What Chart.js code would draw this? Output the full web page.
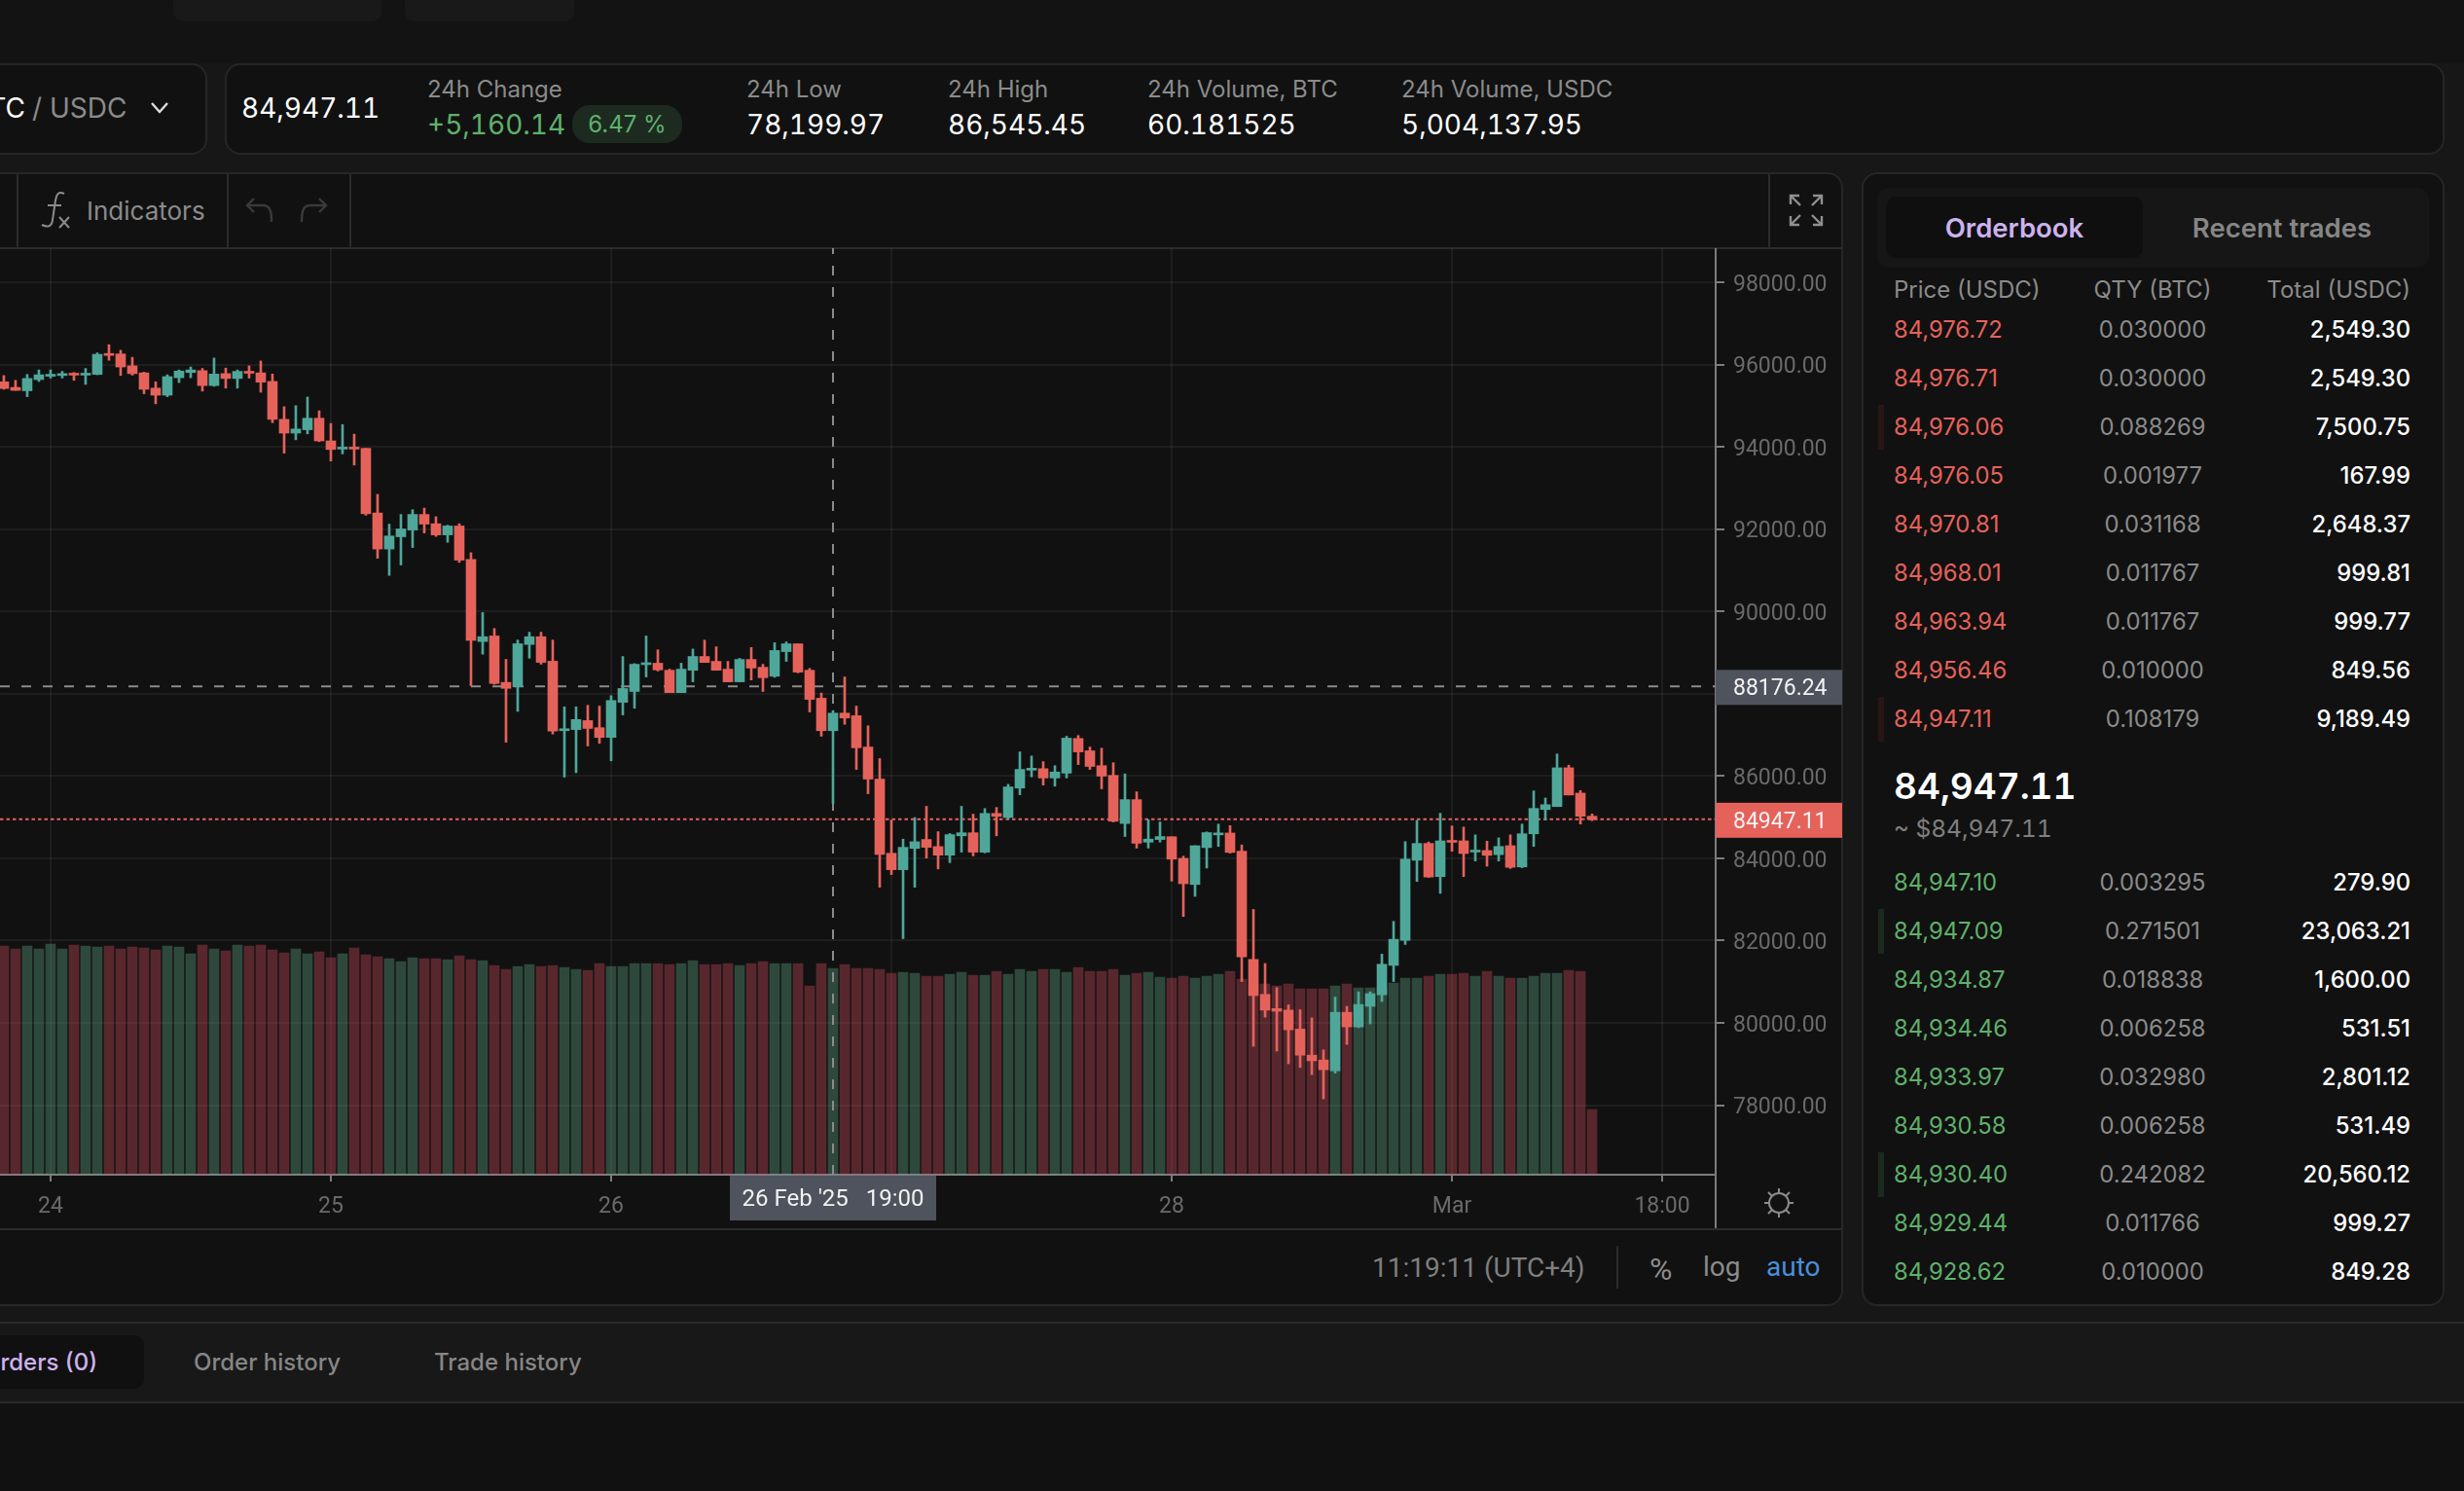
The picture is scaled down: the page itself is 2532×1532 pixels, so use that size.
<!DOCTYPE html>
<html>
<head>
<meta charset="utf-8">
<title>BTC / USDC</title>
<script src="https://cdn.jsdelivr.net/npm/chart.js@4"></script>
<style>
  html, body { margin: 0; padding: 0; background: #171717; overflow: hidden; }
  body { width: 2532px; height: 1532px; position: relative; font-family: Inter, "Noto Sans", sans-serif; color: #fff; }
  .abs { position: absolute; white-space: nowrap; line-height: 1; }
  .box { position: absolute; box-sizing: border-box; background: #111; border: 2px solid #262626; }
  .line { position: absolute; background: #2b2b2b; }
  .label { color: #8b8b8b; font-size: 24px; }
  .value { color: #fff; font-size: 28px; font-variant-numeric: tabular-nums; }
  .row { font-size: 23.8px; }
  #chart { position: absolute; left: 0; top: 255px; }
</style>
</head>
<body>
<div class="abs" style="left:0;top:0;width:2532px;height:65px;background:#131313"></div>
<div class="abs" style="left:178px;top:-10px;width:214px;height:32px;background:#191919;border-radius:10px"></div>
<div class="abs" style="left:416px;top:-10px;width:174px;height:32px;background:#191919;border-radius:10px"></div>

<div class="box" style="left:-20px;top:65px;width:233px;height:94px;border-radius:16px"></div>
<div class="abs" style="right:2506px;top:97px;font-size:28px">BTC</div>
<div class="abs" style="left:33px;top:97px;font-size:28px;color:#8b8b8b">/ USDC</div>
<svg class="abs" style="left:154px;top:104px" width="20" height="14"><path d="M2 2 L10 11 L18 2" fill="none" stroke="#ddd" stroke-width="2.4"/></svg>

<div class="box" style="left:231px;top:65px;width:2281px;height:94px;border-radius:16px"></div>
<div class="abs value" style="left:248px;top:97px">84,947.11</div>
<div class="abs label" style="left:439px;top:80px">24h Change</div>
<div class="abs value" style="left:439px;top:114px;color:#5fb06b">+5,160.14</div>
<div class="abs" style="left:588px;top:108px;width:113px;height:39px;border-radius:18px;background:#1c2a20"></div>
<div class="abs" style="left:588px;width:113px;text-align:center;top:116px;font-size:24px;color:#5fb06b">6.47 %</div>
<div class="abs label" style="left:767px;top:80px">24h Low</div>
<div class="abs value" style="left:767px;top:114px">78,199.97</div>
<div class="abs label" style="left:974px;top:80px">24h High</div>
<div class="abs value" style="left:974px;top:114px">86,545.45</div>
<div class="abs label" style="left:1179px;top:80px">24h Volume, BTC</div>
<div class="abs value" style="left:1179px;top:114px">60.181525</div>
<div class="abs label" style="left:1440px;top:80px">24h Volume, USDC</div>
<div class="abs value" style="left:1440px;top:114px">5,004,137.95</div>

<div class="box" style="left:-20px;top:177px;width:1914px;height:1165px;border-radius:16px"></div>
<div class="line" style="left:0;top:254px;width:1893px;height:2px"></div>
<div class="line" style="left:17px;top:179px;width:2px;height:75px"></div>
<div class="line" style="left:233px;top:179px;width:2px;height:75px"></div>
<div class="line" style="left:359px;top:179px;width:2px;height:75px"></div>
<div class="line" style="left:1817px;top:179px;width:2px;height:75px"></div>
<svg class="abs" style="left:40px;top:196px" width="34" height="40" fill="none" stroke="#8b8b8b" stroke-width="2">
  <path d="M26 3 C20 0 18 4 17 10 L14 30 C13 37 9 38 3 35"/><path d="M9 15 L23 15"/><path d="M21 27 L31 38 M31 27 L21 38"/>
</svg>
<div class="abs" style="left:89px;top:204px;font-size:26px;color:#8b8b8b">Indicators</div>
<svg class="abs" style="left:252px;top:202px" width="85" height="28" fill="none" stroke="#3a3a3a" stroke-width="2.4">
  <path d="M9 2 L2 9 L9 16 M2 9 L18 9 C25 9 27 14 27 26"/><path d="M76 2 L83 9 L76 16 M83 9 L67 9 C60 9 58 14 58 26"/>
</svg>
<svg class="abs" style="left:1838px;top:199px" width="36" height="34" fill="none" stroke="#8f8f8f" stroke-width="2.4">
  <path d="M2 11 L2 2 L11 2 M2 2 L12 12"/><path d="M25 2 L34 2 L34 11 M34 2 L24 12"/><path d="M2 23 L2 32 L11 32 M2 32 L12 22"/><path d="M25 32 L34 32 L34 23 M34 32 L24 22"/>
</svg>

<canvas id="chart" width="1893" height="1007"></canvas>

<div class="line" style="left:0;top:1262px;width:1893px;height:2px"></div>
<div class="line" style="left:1762px;top:1207px;width:2px;height:55px;background:#7c7c80"></div>
<svg class="abs" style="left:1812px;top:1220px" width="32" height="32" fill="none" stroke="#8b8b8b" stroke-width="2">
  <circle cx="16" cy="16" r="10"/><path d="M16 1 V6 M16 26 V31 M1 16 H6 M26 16 H31 M5 5 L9 9 M23 23 L27 27 M27 5 L23 9 M9 23 L5 27"/>
</svg>
<div class="abs" style="left:1410px;top:1289px;font-size:28px;color:#7f7f7f;font-family:Roboto">11:19:11 (UTC+4)</div>
<div class="line" style="left:1661px;top:1280px;width:2px;height:44px"></div>
<div class="abs" style="left:1695px;top:1288px;font-size:32px;color:#8b8b8b;font-family:Roboto">%</div>
<div class="abs" style="left:1750px;top:1288px;font-size:28px;color:#8b8b8b;font-family:Roboto">log</div>
<div class="abs" style="left:1815px;top:1288px;font-size:28px;color:#4a8fdc;font-family:Roboto">auto</div>

<div class="box" style="left:1913px;top:177px;width:599px;height:1165px;border-radius:16px"></div>
<div class="abs" style="left:1929px;top:193px;width:567px;height:82px;border-radius:12px;background:#161616"></div>
<div class="abs" style="left:1938px;top:202px;width:264px;height:63px;border-radius:10px;background:#0f0f0f"></div>
<div class="abs" style="left:1938px;width:264px;text-align:center;top:221px;font-size:27.5px;font-weight:600;color:#cdb2ee">Orderbook</div>
<div class="abs" style="left:2212px;width:266px;text-align:center;top:221px;font-size:27.5px;font-weight:600;color:#868686">Recent trades</div>
<div class="abs label" style="left:1946px;top:286px">Price (USDC)</div>
<div class="abs label" style="left:2112px;width:200px;text-align:center;top:286px">QTY (BTC)</div>
<div class="abs label" style="right:55px;top:286px">Total (USDC)</div>
<div id="rows"></div>
<div class="abs" style="left:1946px;top:789px;font-size:37px;font-weight:600;font-variant-numeric:tabular-nums">84,947.11</div>
<div class="abs" style="left:1946px;top:839px;font-size:24.5px;color:#7f7f7f;font-variant-numeric:tabular-nums">~ $84,947.11</div>

<div class="line" style="left:0;top:1358px;width:2532px;height:2px"></div>
<div class="abs" style="left:0;top:1360px;width:2532px;height:172px;background:#111"></div>
<div class="abs" style="left:0;top:1360px;width:2532px;height:80px;background:#181818"></div>
<div class="line" style="left:0;top:1440px;width:2532px;height:2px"></div>
<div class="abs" style="left:-20px;top:1372px;width:168px;height:55px;border-radius:10px;background:#101010"></div>
<div class="abs" style="right:2432px;top:1388px;font-size:24px;font-weight:500;color:#cdb2ee">Open orders (0)</div>
<div class="abs" style="left:199px;top:1388px;font-size:24px;font-weight:500;color:#868686">Order history</div>
<div class="abs" style="left:446px;top:1388px;font-size:24px;font-weight:500;color:#868686">Trade history</div>

<script>
// hours counted from 24 Feb 00:00, one candle per hour
const hours = [
  -4, -3, -2, -1,
  0, 1, 2, 3, 4, 5, 6, 7, 8, 9, 10, 11, 12, 13, 14, 15, 16, 17, 18, 19, 20, 21, 22, 23,
  24, 25, 26, 27, 28, 29, 30, 31, 32, 33, 34, 35, 36, 37, 38, 39, 40, 41, 42, 43, 44, 45, 46, 47,
  48, 49, 50, 51, 52, 53, 54, 55, 56, 57, 58, 59, 60, 61, 62, 63, 64, 65, 66, 67, 68, 69, 70, 71,
  72, 73, 74, 75, 76, 77, 78, 79, 80, 81, 82, 83, 84, 85, 86, 87, 88, 89, 90, 91, 92, 93, 94, 95,
  96, 97, 98, 99, 100, 101, 102, 103, 104, 105, 106, 107, 108, 109, 110, 111, 112, 113, 114, 115, 116, 117, 118, 119,
  120, 121, 122, 123, 124, 125, 126, 127, 128, 129, 130, 131, 132,
];
const opens = [
  95580, 95444, 95363, 95634,
  95715, 95733, 95788, 95742, 95760, 96266, 96257, 95968, 95797, 95426, 95255, 95679, 95806, 95851, 95489, 95779, 95661, 95824, 95797, 95589, 94668, 94334, 94415, 94695,
  94144, 93945, 93982, 93963, 92392, 91516, 91814, 91977, 92356, 92130, 91859, 92076, 91263, 89268, 89403, 88275, 88166, 89196, 89385, 88789, 87101, 87128, 87346, 87174,
  86938, 87790, 88053, 88705, 88741, 88569, 88025, 88569, 88904, 88786, 88596, 88288, 88832, 88642, 88424, 89022, 89212, 88569, 87890, 87101, 87527, 87464, 86703, 85924,
  84121, 83722, 84238, 84456, 84284, 84075, 84546, 84619, 84148, 85090, 84990, 85706, 86141, 86177, 85951, 86068, 86911, 86612, 86250, 86014, 84845, 85425, 84392, 84456,
  84523, 83997, 83363, 84260, 84568, 84614, 84170, 81542, 80691, 80346, 80310, 79848, 79214, 79096, 78833, 80256, 79902, 80401, 80681, 81397, 82004, 83952, 84360, 83554,
  84414, 84423, 84151, 84188, 84088, 84305, 83789, 84595, 85184, 85257, 86199, 85583, 85021,
];
const highs = [
  95733, 95616, 95760, 95869,
  95869, 95833, 95806, 95905, 96284, 96483, 96347, 96176, 95815, 95580, 95751, 95869, 95941, 95905, 96158, 95914, 95869, 95968, 96086, 95769, 94975, 95002, 95210, 94875,
  94568, 94541, 94307, 93963, 92844, 92121, 92356, 92473, 92510, 92302, 92094, 92130, 91426, 89972, 89584, 88834, 89304, 89494, 89494, 89304, 87679, 87679, 87717, 87699,
  87953, 88904, 88732, 89403, 89067, 88596, 88741, 89085, 89303, 89140, 88786, 88859, 89122, 88714, 89239, 89258, 89212, 88614, 88016, 87590, 88406, 87699, 87219, 86422,
  84927, 84465, 84990, 85262, 84646, 84601, 85262, 85072, 85208, 85235, 85797, 86585, 86485, 86349, 86250, 86965, 86984, 86703, 86675, 86322, 86050, 85615, 84936, 84882,
  84523, 84052, 84305, 84641, 84831, 84795, 84324, 82756, 81442, 80854, 80437, 80319, 80120, 79341, 80627, 80401, 80754, 80754, 81669, 82466, 84405, 84922, 84396, 85094,
  84786, 84758, 84568, 84414, 84496, 84568, 84831, 85637, 85465, 86534, 86262, 85646, 85076,
];
const lows = [
  95399, 95372, 95219, 95589,
  95670, 95670, 95616, 95517, 95751, 96104, 95733, 95742, 95291, 95047, 95219, 95562, 95679, 95354, 95471, 95426, 95426, 95670, 95327, 94587, 93846, 94171, 94316, 94126,
  93656, 93828, 93557, 92338, 91291, 90875, 91128, 91552, 91905, 91823, 91679, 91191, 88193, 88961, 88229, 86821, 87570, 88862, 88717, 87019, 85972, 86080, 86730, 86793,
  86367, 87482, 87645, 88406, 88551, 88025, 88025, 88288, 88759, 88569, 88288, 88288, 88333, 88053, 88397, 88786, 88506, 87554, 86965, 85335, 87255, 86159, 85570, 83296,
  83604, 82046, 83296, 84003, 83740, 83894, 84148, 84057, 84130, 84546, 84954, 85543, 85978, 85779, 85751, 85951, 86277, 86159, 85688, 84882, 84528, 84247, 84247, 84392,
  83445, 82584, 83073, 83762, 84287, 84124, 81003, 79431, 80138, 79314, 79005, 78915, 78743, 78154, 78779, 79477, 79884, 79975, 80518, 81003, 81905, 83436, 83535, 83146,
  84170, 83554, 83934, 83807, 83934, 83753, 83771, 84287, 84931, 85257, 85538, 84831, 84913,
];
const closes = [
  95417, 95372, 95661, 95751,
  95760, 95769, 95742, 95788, 96248, 96221, 95941, 95779, 95399, 95255, 95706, 95842, 95869, 95489, 95769, 95661, 95833, 95788, 95571, 94668, 94334, 94433, 94695, 94144,
  93936, 93982, 93945, 92374, 91516, 91832, 92004, 92356, 92121, 91859, 92076, 91245, 89295, 89385, 88248, 88130, 89214, 89385, 88762, 87092, 87137, 87372, 87156, 86938,
  87835, 88125, 88714, 88741, 88578, 88025, 88596, 88904, 88759, 88569, 88288, 88832, 88623, 88388, 89049, 89212, 88524, 87862, 87101, 87527, 87409, 86685, 85924, 84093,
  83722, 84266, 84401, 84266, 84075, 84574, 84619, 84148, 85090, 85018, 85733, 86159, 86186, 85951, 86096, 86920, 86585, 86232, 85996, 84900, 85425, 84365, 84465, 84528,
  83979, 83381, 84305, 84623, 84604, 84142, 81606, 80663, 80310, 80283, 79830, 79214, 79078, 78860, 80256, 79902, 80446, 80709, 81424, 82031, 83979, 84360, 83544, 84423,
  84387, 84115, 84188, 84070, 84287, 83780, 84595, 85211, 85302, 86199, 85538, 85021, 84947,
];
const volumes = [
  235, 232, 235, 232,
  237, 232, 236, 235, 234, 235, 232, 234, 233, 231, 235, 234, 227, 236, 232, 230, 236, 235, 236, 231, 228, 232, 227, 229,
  223, 227, 233, 226, 224, 222, 219, 223, 222, 222, 221, 225, 221, 220, 215, 211, 214, 216, 214, 215, 213, 211, 210, 217,
  214, 214, 217, 217, 217, 216, 217, 220, 216, 216, 217, 215, 217, 219, 217, 217, 217, 194, 217, 212, 216, 212, 212, 211,
  207, 208, 207, 204, 204, 206, 208, 205, 205, 209, 206, 211, 209, 211, 211, 208, 213, 209, 209, 211, 205, 207, 208, 203,
  202, 204, 202, 204, 206, 209, 201, 196, 196, 194, 196, 191, 191, 191, 194, 196, 192, 192, 193, 197, 202, 202, 204, 206,
  206, 207, 204, 209, 204, 202, 202, 204, 207, 207, 210, 209, 67,
];

const priceTicks = [78000, 80000, 82000, 84000, 86000, 88000, 90000, 92000, 94000, 96000, 98000];
const timeTicks = [0, 24, 48, 72, 96, 120, 138];
const timeLabels = ["24", "25", "26", "27", "28", "Mar", "18:00"];
const lastPrice = 84947.11;
const crosshairPrice = 88176.24;
const crosshairHour = 67;
const crosshairLabel = "26 Feb '25   19:00";

const askPrices = ["84,976.72", "84,976.71", "84,976.06", "84,976.05", "84,970.81", "84,968.01", "84,963.94", "84,956.46", "84,947.11"];
const askQty = ["0.030000", "0.030000", "0.088269", "0.001977", "0.031168", "0.011767", "0.011767", "0.010000", "0.108179"];
const askTotal = ["2,549.30", "2,549.30", "7,500.75", "167.99", "2,648.37", "999.81", "999.77", "849.56", "9,189.49"];
const bidPrices = ["84,947.10", "84,947.09", "84,934.87", "84,934.46", "84,933.97", "84,930.58", "84,930.40", "84,929.44", "84,928.62"];
const bidQty = ["0.003295", "0.271501", "0.018838", "0.006258", "0.032980", "0.006258", "0.242082", "0.011766", "0.010000"];
const bidTotal = ["279.90", "23,063.21", "1,600.00", "531.51", "2,801.12", "531.49", "20,560.12", "999.27", "849.28"];

const RED = "#e5625b";
const GREEN = "#4fa79a";
const VOL_RED = "rgba(217, 81, 100, 0.36)";
const VOL_GREEN = "rgba(100, 175, 139, 0.36)";
const GRID = "rgba(255, 255, 255, 0.055)";
const AXIS = "#7c7c80";
const TICK_FONT = { family: "Roboto", size: 23 };

const X_MIN = -4.33;
const X_MAX = 142.58;
const Y_MIN = 76309;
const Y_MAX = 98828;

function addBookRows(prices, qty, total, color, firstY, markedRows) {
  const holder = document.getElementById("rows");
  prices.forEach((price, i) => {
    const y = firstY + i * 50;
    const cells = [
      `<div class="abs row" style="left:1946px;top:${y}px;color:${color}">${price}</div>`,
      `<div class="abs row" style="left:2112px;width:200px;text-align:center;top:${y}px;color:#8b8b8b">${qty[i]}</div>`,
      `<div class="abs row" style="right:55px;top:${y}px;color:#fff;font-weight:500">${total[i]}</div>`,
    ];
    if (markedRows.includes(i)) {
      const mark = color === RED ? "#2a1516" : "#1a2a1e";
      cells.push(`<div class="abs" style="left:1930px;top:${y - 11}px;width:6px;height:46px;background:${mark}"></div>`);
    }
    holder.insertAdjacentHTML("beforeend", cells.join(""));
  });
}
addBookRows(askPrices, askQty, askTotal, RED, 327, [2, 8]);
addBookRows(bidPrices, bidQty, bidTotal, "#5fb06b", 895, [1, 6]);

const isUp = hours.map((_, i) => closes[i] >= opens[i]);

const priceTags = {
  id: "priceTags",
  afterDraw(chart) {
    const { ctx, chartArea, scales } = chart;
    const drawTag = (x, y, w, h, bg, text, font, align) => {
      ctx.fillStyle = bg;
      ctx.fillRect(x, y, w, h);
      ctx.fillStyle = "#f2f2f2";
      ctx.font = font;
      ctx.textBaseline = "middle";
      ctx.textAlign = align;
      ctx.fillText(text, align === "center" ? x + w / 2 : x + 18, y + h / 2 + 2);
    };
    ctx.save();
    drawTag(chartArea.right, scales.y.getPixelForValue(crosshairPrice) - 17, 130, 36, "#4f535e", crosshairPrice.toFixed(2), "23px Roboto", "left");
    drawTag(chartArea.right, scales.y.getPixelForValue(lastPrice) - 17, 130, 36, RED, lastPrice.toFixed(2), "23px Roboto", "left");
    drawTag(scales.x.getPixelForValue(crosshairHour) - 106, chartArea.bottom + 1, 212, 46, "#4f535e", crosshairLabel, "24px Roboto", "center");
    ctx.restore();
  },
};

new Chart(document.getElementById("chart"), {
  type: "bar",
  data: {
    datasets: [
      {
        label: "Volume",
        yAxisID: "vol",
        data: hours.map((h, i) => ({ x: h, y: volumes[i] })),
        backgroundColor: isUp.map((up) => (up ? VOL_GREEN : VOL_RED)),
        barThickness: 10,
        grouped: false,
        order: 5,
      },
      {
        type: "line",
        label: "Last price",
        data: [{ x: X_MIN, y: lastPrice }, { x: X_MAX, y: lastPrice }],
        borderColor: RED,
        borderWidth: 2,
        borderDash: [3.5, 3],
        pointRadius: 0,
        order: 4,
      },
      {
        type: "line",
        label: "Crosshair price",
        data: [{ x: X_MIN, y: crosshairPrice }, { x: X_MAX, y: crosshairPrice }],
        borderColor: "#8a8a8a",
        borderWidth: 2,
        borderDash: [10, 12],
        pointRadius: 0,
        order: 4,
      },
      {
        type: "line",
        label: "Crosshair time",
        data: [{ x: crosshairHour, y: Y_MIN }, { x: crosshairHour, y: Y_MAX }],
        borderColor: "#8a8a8a",
        borderWidth: 2,
        borderDash: [10, 12],
        pointRadius: 0,
        order: 4,
      },
      {
        label: "Wick",
        data: hours.map((h, i) => ({ x: h, y: [lows[i], highs[i]] })),
        backgroundColor: isUp.map((up) => (up ? GREEN : RED)),
        barThickness: 2,
        grouped: false,
        order: 2,
      },
      {
        label: "Body",
        data: hours.map((h, i) => ({ x: h, y: [opens[i], closes[i]] })),
        backgroundColor: isUp.map((up) => (up ? GREEN : RED)),
        barThickness: 10,
        minBarLength: 2,
        grouped: false,
        order: 1,
      },
    ],
  },
  options: {
    responsive: false,
    animation: false,
    layout: { padding: 0 },
    plugins: { legend: { display: false }, tooltip: { enabled: false } },
    scales: {
      x: {
        type: "linear",
        min: X_MIN,
        max: X_MAX,
        offset: false,
        afterBuildTicks(axis) {
          axis.ticks = timeTicks.map((value) => ({ value }));
        },
        afterFit(axis) {
          axis.height = 55;
          axis.paddingLeft = 0;
          axis.paddingRight = 0;
        },
        grid: { color: GRID, lineWidth: 2, offset: false, tickLength: 7, tickColor: AXIS },
        border: { color: AXIS, width: 2 },
        ticks: {
          color: "#6a6a6a",
          font: TICK_FONT,
          padding: 12,
          autoSkip: false,
          maxRotation: 0,
          callback: (value, index) => timeLabels[index],
        },
      },
      y: {
        position: "right",
        min: Y_MIN,
        max: Y_MAX,
        afterBuildTicks(axis) {
          axis.ticks = priceTicks.map((value) => ({ value }));
        },
        afterFit(axis) {
          axis.width = 130;
          axis.paddingTop = 0;
          axis.paddingBottom = 0;
        },
        grid: { color: GRID, lineWidth: 2, tickLength: 9, tickColor: AXIS },
        border: { color: AXIS, width: 2 },
        ticks: {
          color: "#6a6a6a",
          font: TICK_FONT,
          padding: 9,
          labelOffset: 3,
          autoSkip: false,
          callback: (value) => value.toFixed(2),
        },
      },
      vol: { display: false, min: 0, max: 952 },
    },
  },
  plugins: [priceTags],
});
</script>
</body>
</html>
